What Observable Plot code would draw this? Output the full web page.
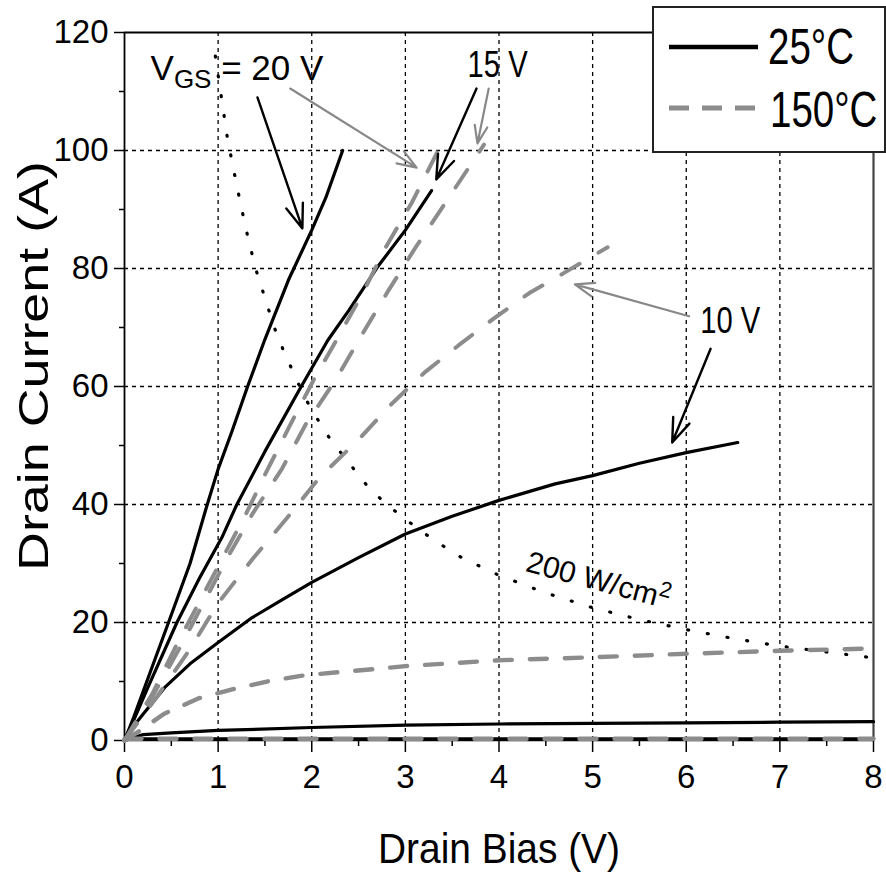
<!DOCTYPE html>
<html><head><meta charset="utf-8">
<script src="https://cdn.jsdelivr.net/npm/d3@7"></script>
<script src="https://cdn.jsdelivr.net/npm/@observablehq/plot@0.6"></script>
<style>html,body{margin:0;padding:0;background:#fff;overflow:hidden}</style>
</head><body><div id="chart"></div>
<script>
// ---- axis ticks ----
const xTicks = [0,1,2,3,4,5,6,7,8];
const xMinor = [0.5,1.5,2.5,3.5,4.5,5.5,6.5,7.5];
const yTicks = [0,20,40,60,80,100,120];
const yMinor = [10,30,50,70,90,110];
const xGrid = [1,2,3,4,5,6,7];
const yGrid = [20,40,60,80,100];

// ---- 25°C curves (solid black) ----
const v20_25_x = [0,0.1,0.25,0.47,0.7,0.88,1.0,1.15,1.31,1.5,1.75,2.0,2.15,2.33];
const v20_25_y = [0,4,10.5,20,30,39.8,46,52.5,59.8,68,78,86.5,92,100];
const v15_25_x = [0,0.1,0.25,0.56,0.8,1.04,1.2,1.5,1.88,2.17,2.4,2.7,3.0,3.28];
const v15_25_y = [0,3.5,9,20,27.5,34.4,40,49,59.8,67.8,73,80.2,86.5,93.2];
const v10_25_x = [0,0.1,0.2,0.43,0.7,1.0,1.36,1.7,2.0,2.5,3.0,3.5,4.0,4.6,5.0,5.5,6.0,6.55];
const v10_25_y = [0,2.5,4.5,9,13,16.6,20.8,24,26.8,31,35,38,40.7,43.5,44.9,47,48.8,50.5];
const v5_25_x = [0,0.1,0.2,0.5,1,2,3,4,5,6,7,8];
const v5_25_y = [0,0.5,1.0,1.3,1.7,2.2,2.6,2.8,2.9,3.0,3.1,3.2];
const v0_25_x = [0,8];
const v0_25_y = [0.3,0.3];

// ---- 150°C curves (dashed grey) ----
const v20_150_x = [0,0.3,0.55,0.8,1.05,1.3,1.53,1.77,2.03,2.28,2.55,2.79,3.07,3.35];
const v20_150_y = [0,8,16,23.5,31,38.5,46,53.5,61.4,68.3,76,83.6,91.2,100];
const v15_150_x = [0,0.3,0.6,0.85,1.1,1.37,1.68,1.94,2.25,2.53,2.82,3.11,3.43,3.84];
const v15_150_y = [0,7.5,16,23.5,31,38.5,46,53.7,61,68.6,76.3,83.6,91.2,101];
const v10_150_x = [0,0.35,0.7,1.0,1.37,1.74,2.09,2.5,2.85,3.2,3.57,3.95,4.32,4.7,5.16];
const v10_150_y = [0,7.5,15.5,23.3,30.8,37.8,44.7,51,57,62.3,67,71.6,75.8,79.3,83.6];
const v5_150_x = [0,0.15,0.42,0.8,1.16,1.55,1.9,2.3,2.66,3,4,5,6,7,8];
const v5_150_y = [0,1.5,4.5,7.2,8.7,10.1,11,11.6,12.1,12.6,13.6,14.1,14.7,15.2,15.6];
const v0_150_x = [0,8];
const v0_150_y = [0.3,0.3];

// ---- 200 W/cm² power limit (dotted) ----
const pw_x = [0.97,1.1,1.2,1.3,1.4,1.5,1.6,1.7,1.8,1.9,2.0,2.2,2.4,2.6,2.8,3.0,3.3,3.6,4.0,4.5,5.0,5.5,6.0,6.5,7.0,7.5,8.0];
const pw_y = [116,102,94,86.5,80,75,70,66,62.5,59,56,51,47,43,40,37.5,34,31,28,25,22.5,20.5,18.8,17.3,16,15,14];

// ---- annotations ----
const arrowBlack_x1 = [1.42,3.76,6.26];
const arrowBlack_y1 = [109.0,110.5,66.4];
const arrowBlack_x2 = [1.90,3.33,5.85];
const arrowBlack_y2 = [86.8,95.1,50.5];
const arrowGrey_x1 = [1.77,3.89,6.03];
const arrowGrey_y1 = [110.5,110.5,71.9];
const arrowGrey_x2 = [3.12,3.77,4.81];
const arrowGrey_y2 = [97.1,101.2,77.3];

const labelVgs = "VGS = 20 V"; const labelVgsX = 0.278; const labelVgsY = 113.8;
const labels = ["15 V","10 V"]; const labelsX = [3.985,6.47]; const labelsY = [114.4,71];
const powerLabel = "200 W/cm2"; const powerLabelX = 5.06; const powerLabelY = 27.1;

const legendNames = ["25°C","150°C"];

function series(name, xs, ys){ return xs.map((x,i)=>({name, x, y: ys[i]})); }
const black = [
  ...series("20V", v20_25_x, v20_25_y),
  ...series("15V", v15_25_x, v15_25_y),
  ...series("10V", v10_25_x, v10_25_y),
  ...series("5V", v5_25_x, v5_25_y),
  ...series("0V", v0_25_x, v0_25_y)
];
const grey = [
  ...series("20V", v20_150_x, v20_150_y),
  ...series("15V", v15_150_x, v15_150_y),
  ...series("10V", v10_150_x, v10_150_y)
];
const greyFlat = [
  ...series("5V", v5_150_x, v5_150_y),
  ...series("0V", v0_150_x, v0_150_y)
];
const power = series("P", pw_x, pw_y);
const arrowsB = arrowBlack_x1.map((d,i)=>({x1:d,y1:arrowBlack_y1[i],x2:arrowBlack_x2[i],y2:arrowBlack_y2[i]}));
const arrowsG = arrowGrey_x1.map((d,i)=>({x1:d,y1:arrowGrey_y1[i],x2:arrowGrey_x2[i],y2:arrowGrey_y2[i]}));
const lab = labels.map((t,i)=>({t, x:labelsX[i], y:labelsY[i]}));

const GREY = "#8c8c8c";
const FONT = "'Liberation Sans', Arial, Helvetica, sans-serif";

const chart = Plot.plot({
  width: 886, height: 873,
  marginLeft: 124, marginRight: 13, marginTop: 32, marginBottom: 133,
  x: {domain: [0,8]},
  y: {domain: [0,120]},
  style: {fontFamily: FONT, background: "white", color: "black"},
  marks: [
    Plot.gridX({ticks: xGrid, stroke: "black", strokeOpacity: 1, strokeWidth: 1.3, strokeDasharray: "4,4"}),
    Plot.gridY({ticks: yGrid, stroke: "black", strokeOpacity: 1, strokeWidth: 1.3, strokeDasharray: "4,4"}),
    Plot.axisX({ticks: xTicks, tickSize: 12, tickPadding: 12, fontSize: 33, label: null, strokeWidth: 1.5}),
    Plot.axisX({ticks: xMinor, tickSize: 6, tickFormat: () => "", label: null, strokeWidth: 1.5}),
    Plot.axisY({ticks: yTicks, tickSize: 10, tickPadding: 6, fontSize: 33, label: null, strokeWidth: 1.5}),
    Plot.axisY({ticks: yMinor, tickSize: 5, tickFormat: () => "", label: null, strokeWidth: 1.5}),
    Plot.ruleX([0], {stroke: "black", strokeWidth: 1.8}),
    Plot.ruleY([120], {stroke: "black", strokeWidth: 1.8}),
    Plot.ruleX([8], {stroke: "#444", strokeWidth: 2.2}),
    Plot.ruleY([0], {stroke: "black", strokeWidth: 1.5}),
    Plot.line(power, {x: "x", y: "y", stroke: "black", strokeWidth: 3.2, strokeDasharray: "1,19", strokeLinecap: "round"}),
    Plot.line(black, {x: "x", y: "y", z: "name", stroke: "black", strokeWidth: 3.2}),
    Plot.line(grey, {x: "x", y: "y", z: "name", stroke: GREY, strokeWidth: 4, strokeDasharray: "21,22"}),
    Plot.line(greyFlat, {x: "x", y: "y", z: "name", stroke: GREY, strokeWidth: 4.4, strokeDasharray: "17,18"}),
    Plot.arrow(arrowsB, {x1: "x1", y1: "y1", x2: "x2", y2: "y2", stroke: "black", strokeWidth: 2.4, headLength: 16, headAngle: 40}),
    Plot.arrow(arrowsG, {x1: "x1", y1: "y1", x2: "x2", y2: "y2", stroke: "#888", strokeWidth: 2.2, headLength: 14, headAngle: 40}),
    Plot.text([labelVgs], {x: () => labelVgsX, y: () => labelVgsY, text: d => d, textAnchor: "start", fontSize: 35, fill: "black"}),
    Plot.text(lab, {x: "x", y: "y", text: "t", textAnchor: "middle", fontSize: 36, fill: "black"}),
    Plot.text([powerLabel], {x: () => powerLabelX, y: () => powerLabelY, text: d => d, rotate: 15, fontSize: 30, fill: "black"})
  ]
});
document.getElementById("chart").appendChild(chart);

const svg = d3.select(chart);
// subscript for V_GS
svg.selectAll("text").filter(function(){ return this.textContent === labelVgs; }).each(function(){
  const t = d3.select(this);
  t.text(null);
  t.append("tspan").text("V");
  t.append("tspan").attr("font-size", 26).attr("dy", 8).text("GS");
  t.append("tspan").attr("dy", -8).text(" = 20 V");
});
// superscript for cm2
svg.selectAll("text").filter(function(){ return this.textContent === powerLabel; }).each(function(){
  const t = d3.select(this);
  t.text(null);
  t.append("tspan").text("200 W/cm");
  t.append("tspan").attr("font-size", 22).attr("dy", -11).text("2");
});
svg.selectAll("text").filter(function(){ return labels.includes(this.textContent); })
  .attr("textLength", 60).attr("lengthAdjust", "spacingAndGlyphs");

// axis titles
svg.append("text").attr("transform", "translate(48,366) rotate(-90)")
  .attr("text-anchor", "middle").attr("font-size", 43).attr("font-family", FONT)
  .attr("textLength", 410).attr("lengthAdjust", "spacingAndGlyphs").text("Drain Current (A)");
svg.append("text").attr("x", 499).attr("y", 863)
  .attr("text-anchor", "middle").attr("font-size", 43).attr("font-family", FONT)
  .attr("textLength", 242).attr("lengthAdjust", "spacingAndGlyphs").text("Drain Bias (V)");

// legend
const lg = svg.append("g").attr("font-family", FONT).attr("text-anchor", "start");
lg.append("rect").attr("x", 653).attr("y", 7).attr("width", 232).attr("height", 145)
  .attr("fill", "white").attr("stroke", "#222").attr("stroke-width", 2);
lg.append("line").attr("x1", 669).attr("x2", 758).attr("y1", 47).attr("y2", 47)
  .attr("stroke", "black").attr("stroke-width", 4.5);
lg.append("line").attr("x1", 669).attr("x2", 757).attr("y1", 108).attr("y2", 108)
  .attr("stroke", GREY).attr("stroke-width", 5).attr("stroke-dasharray", "20,13");
lg.append("text").attr("transform", "translate(768,64) scale(0.77,1)").attr("font-size", 50)
  .attr("text-anchor", "start").text(legendNames[0]);
lg.append("text").attr("transform", "translate(770,127) scale(0.77,1)").attr("font-size", 50)
  .attr("text-anchor", "start").text(legendNames[1]);
</script></body></html>
